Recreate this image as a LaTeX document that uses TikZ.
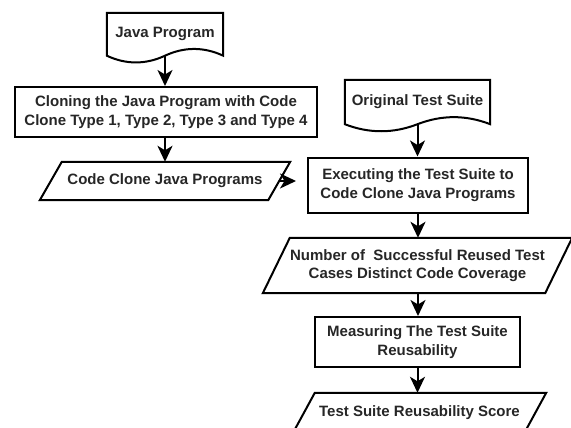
\documentclass[tikz,border=0pt]{standalone}
\usepackage{fontspec}
\setmainfont{Liberation Sans}
\usetikzlibrary{arrows.meta}
\begin{document}
\begin{tikzpicture}[x=1pt,y=-1pt,
  lbl/.style={font=\bfseries\fontsize{15}{18.5}\selectfont, align=center, inner sep=0pt, text=black!85},
  proc/.style={lbl, draw, line width=2pt},
  shp/.style={line width=2pt, line join=miter},
  arr/.style={line width=2pt, -{Stealth[length=16pt,width=15pt,inset=4.5pt]}}]
\useasboundingbox (0,0) rectangle (571,428);
\clip (0,0) rectangle (571,428);
% Java Program document
\node[lbl, minimum width=116, minimum height=42.5] (java) at (165,34.25) {Java Program};
\draw[shp] (java.south west) -- (java.north west) -- (java.north east) -- (java.south east)
  .. controls +(-19.3,-9) and +(19.3,-9) .. (java.south)
  .. controls +(-19.3,9) and +(19.3,9) .. (java.south west) -- cycle;
% Cloning box
\node[proc, minimum width=302, minimum height=50] (clone) at (166,112)
  {Cloning the Java Program with Code\\Clone Type 1, Type 2, Type 3 and Type 4};
% Code Clone Java Programs
\node[lbl, minimum width=250, minimum height=38] (cc) at (165,181) {Code Clone Java Programs};
\draw[shp] ([xshift=22]cc.north west) -- (cc.north east) -- ([xshift=-22]cc.south east) -- (cc.south west) -- cycle;
% Original Test Suite document
\node[lbl, minimum width=145, minimum height=44] (ots) at (417.5,102) {Original Test Suite};
\draw[shp] (ots.south west) -- (ots.north west) -- (ots.north east) -- (ots.south east)
  .. controls +(-24.2,-9.4) and +(24.2,-9.4) .. (ots.south)
  .. controls +(-24.2,9.4) and +(24.2,9.4) .. (ots.south west) -- cycle;
% Executing box
\node[proc, minimum width=220, minimum height=55] (exec) at (418,185)
  {Executing the Test Suite to\\Code Clone Java Programs};
% Number parallelogram
\node[lbl, minimum width=309, minimum height=55] (num) at (417.5,265.5)
  {Number of~ Successful Reused Test\\Cases Distinct Code Coverage};
\draw[shp] ([xshift=27]num.north west) -- (num.north east) -- ([xshift=-27]num.south east) -- (num.south west) -- cycle;
% Measuring box
\node[proc, minimum width=205, minimum height=50] (meas) at (417.5,342)
  {Measuring The Test Suite\\Reusability};
% Score parallelogram
\node[lbl, minimum width=253, minimum height=40] (score) at (419.5,413) {Test Suite Reusability Score};
\draw[shp] ([xshift=22]score.north west) -- (score.north east) -- ([xshift=-22]score.south east) -- (score.south west) -- cycle;
% connectors
\draw[arr] (java.south) -- (java.south |- clone.north);
\draw[arr] (java.south |- clone.south) -- (java.south |- cc.north);
\draw[arr] ([xshift=-11]cc.east) -- ([xshift=-11]cc.east -| exec.west);
\draw[arr] (ots.south) -- (ots.south |- exec.north);
\draw[arr] (exec.south) -- (exec.south |- num.north);
\draw[arr] (exec.south |- num.south) -- (exec.south |- meas.north);
\draw[arr] (meas.south) -- (meas.south |- score.north);
\end{tikzpicture}
\end{document}
